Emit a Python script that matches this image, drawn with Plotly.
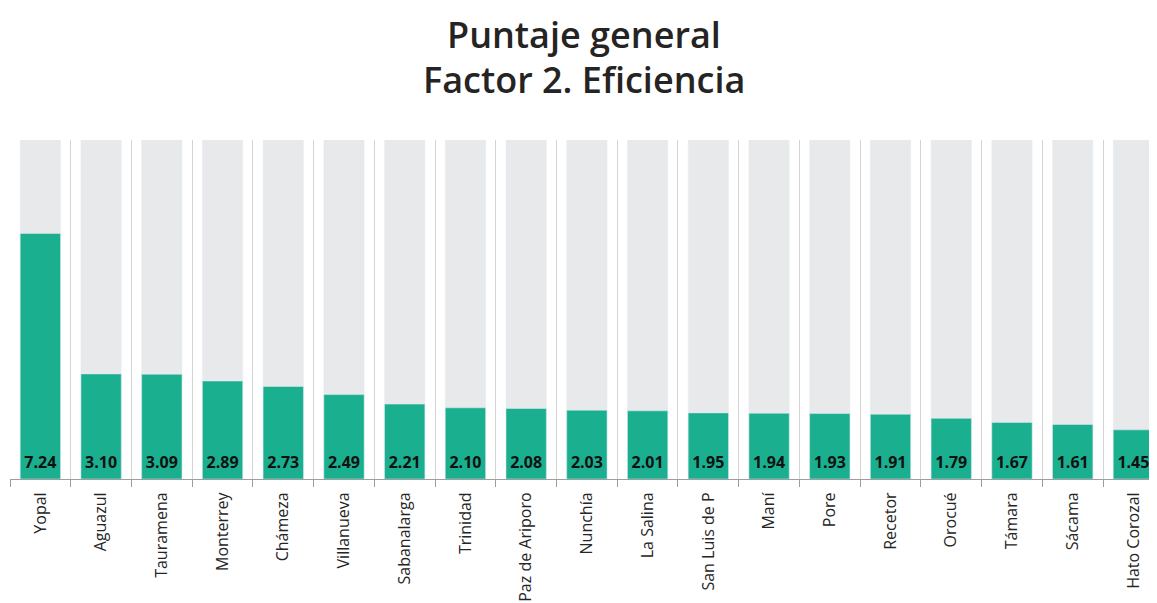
import plotly.graph_objects as go

municipios = ["Yopal", "Aguazul", "Tauramena", "Monterrey", "Chámeza", "Villanueva",
              "Sabanalarga", "Trinidad", "Paz de Ariporo", "Nunchía", "La Salina",
              "San Luis de P", "Maní", "Pore", "Recetor", "Orocué", "Támara",
              "Sácama", "Hato Corozal"]
puntaje = [7.24, 3.10, 3.09, 2.89, 2.73, 2.49, 2.21, 2.10, 2.08, 2.03, 2.01,
           1.95, 1.94, 1.93, 1.91, 1.79, 1.67, 1.61, 1.45]
maximo = [10] * len(municipios)
titulo_1 = "Puntaje general"
titulo_2 = "Factor 2. Eficiencia"

GREEN = "#1AAF8F"
GRAY = "#E8E9EA"

fig = go.Figure()
fig.add_trace(go.Bar(x=municipios, y=maximo, marker_color=GRAY, width=0.664,
                     hoverinfo="skip", showlegend=False))
fig.add_trace(go.Bar(x=municipios, y=puntaje, marker_color=GREEN, width=0.664,
                     showlegend=False))
fig.add_trace(go.Scatter(x=municipios, y=[0.43] * len(municipios), mode="text",
                         text=[f"{v:.2f}" for v in puntaje],
                         textfont=dict(family="Open Sans", size=16, color="#111111", weight="bold"),
                         textposition="middle center", showlegend=False, hoverinfo="skip",
                         cliponaxis=False))

# page body has an 8px margin: figure coords = screen coords - 8
title_font = dict(family="Open Sans", size=36, color="#252423", weight=600)
fig.update_layout(
    width=1157, height=603,
    barmode="overlay",
    paper_bgcolor="white", plot_bgcolor="white",
    margin=dict(l=2, r=0, t=132, b=132),
    annotations=[
        dict(text=titulo_1, x=(584 - 10) / 1155, y=(479 - 34) / 339, xref="paper", yref="paper",
             xanchor="center", yanchor="middle", showarrow=False, font=title_font),
        dict(text=titulo_2, x=(584 - 10) / 1155, y=(479 - 80) / 339, xref="paper", yref="paper",
             xanchor="center", yanchor="middle", showarrow=False, font=title_font),
    ],
)
fig.update_xaxes(
    type="category", range=[-0.5, 18.52], tickangle=-90, tickson="boundaries",
    ticks="outside", ticklen=7, tickcolor="#9E9E9E", showline=True, linecolor="#9E9E9E",
    showgrid=True, gridcolor="#D4D4D4", gridwidth=1, automargin=False,
    ticklabelstandoff=6,
    tickfont=dict(family="Open Sans", size=16, color="#252525"),
)
fig.update_yaxes(range=[0, 10], visible=False, showgrid=False, automargin=False)

fig.write_html("out.html")
